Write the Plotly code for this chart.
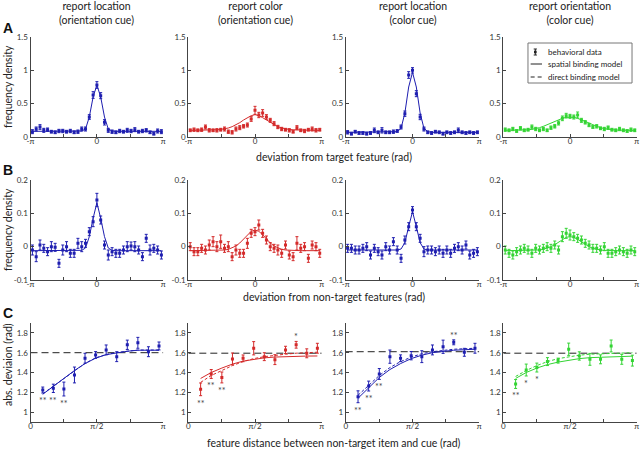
import numpy as np
import plotly.graph_objects as go

PI = np.pi
FONT = "Lato"

# ---------------- data ----------------
col_titles = ["report location<br>(orientation cue)", "report color<br>(orientation cue)",
              "report location<br>(color cue)", "report orientation<br>(color cue)"]
panel_colors = ["#1e1eb0", "#d42a2a", "#1e1eb0", "#33d433"]

n_bins = 35
bin_centers = -PI + (np.arange(n_bins) + 0.5) * 2 * PI / n_bins

# Row A: deviation from target feature
A1_y = [0.08, 0.12, 0.15, 0.10, 0.11, 0.08, 0.07, 0.09, 0.09, 0.08, 0.09, 0.07, 0.08, 0.12, 0.12, 0.30, 0.63, 0.78, 0.62, 0.22, 0.10, 0.08, 0.07, 0.09, 0.08, 0.10, 0.09, 0.11, 0.08, 0.09, 0.10, 0.07, 0.05, 0.09, 0.08]
A1_err = [0.03, 0.03, 0.035, 0.03, 0.025, 0.02, 0.02, 0.025, 0.025, 0.02, 0.025, 0.02, 0.025, 0.03, 0.03, 0.035, 0.05, 0.05, 0.045, 0.04, 0.03, 0.025, 0.02, 0.025, 0.02, 0.03, 0.025, 0.03, 0.02, 0.025, 0.025, 0.02, 0.02, 0.03, 0.03]
A1_model = [0.085, 0.085, 0.085, 0.085, 0.085, 0.085, 0.085, 0.085, 0.085, 0.085, 0.085, 0.085, 0.086, 0.09, 0.12, 0.30, 0.60, 0.78, 0.60, 0.30, 0.12, 0.09, 0.086, 0.085, 0.085, 0.085, 0.085, 0.085, 0.085, 0.085, 0.085, 0.085, 0.085, 0.085, 0.085]

A2_y = [0.10, 0.11, 0.10, 0.11, 0.15, 0.10, 0.10, 0.10, 0.11, 0.12, 0.08, 0.07, 0.12, 0.14, 0.16, 0.18, 0.27, 0.40, 0.33, 0.36, 0.30, 0.25, 0.20, 0.15, 0.12, 0.11, 0.10, 0.08, 0.14, 0.10, 0.09, 0.11, 0.12, 0.10, 0.11]
A2_err = [0.02, 0.025, 0.02, 0.025, 0.03, 0.025, 0.02, 0.025, 0.02, 0.03, 0.025, 0.025, 0.03, 0.03, 0.025, 0.03, 0.035, 0.06, 0.04, 0.05, 0.035, 0.03, 0.03, 0.025, 0.025, 0.02, 0.025, 0.02, 0.03, 0.02, 0.025, 0.02, 0.03, 0.025, 0.02]
A2_model = [0.1, 0.1, 0.1, 0.101, 0.102, 0.103, 0.105, 0.108, 0.113, 0.122, 0.135, 0.155, 0.18, 0.215, 0.255, 0.29, 0.32, 0.335, 0.32, 0.29, 0.255, 0.215, 0.18, 0.155, 0.135, 0.122, 0.113, 0.108, 0.105, 0.103, 0.102, 0.101, 0.1, 0.1, 0.1]

A3_y = [0.07, 0.05, 0.08, 0.06, 0.06, 0.05, 0.06, 0.10, 0.07, 0.10, 0.07, 0.07, 0.08, 0.09, 0.15, 0.35, 0.93, 1.00, 0.65, 0.30, 0.12, 0.07, 0.06, 0.08, 0.07, 0.05, 0.07, 0.06, 0.07, 0.10, 0.07, 0.06, 0.07, 0.06, 0.07]
A3_err = [0.025, 0.02, 0.02, 0.02, 0.02, 0.02, 0.02, 0.035, 0.02, 0.04, 0.02, 0.02, 0.025, 0.02, 0.03, 0.04, 0.05, 0.04, 0.045, 0.04, 0.03, 0.02, 0.02, 0.02, 0.02, 0.02, 0.02, 0.02, 0.02, 0.035, 0.02, 0.02, 0.02, 0.02, 0.02]
A3_model = [0.07, 0.07, 0.07, 0.07, 0.07, 0.07, 0.07, 0.07, 0.07, 0.07, 0.07, 0.07, 0.07, 0.08, 0.13, 0.36, 0.75, 0.97, 0.75, 0.36, 0.13, 0.08, 0.07, 0.07, 0.07, 0.07, 0.07, 0.07, 0.07, 0.07, 0.07, 0.07, 0.07, 0.07, 0.07]

A4_y = [0.11, 0.10, 0.12, 0.09, 0.13, 0.10, 0.11, 0.15, 0.12, 0.10, 0.12, 0.10, 0.14, 0.16, 0.21, 0.28, 0.32, 0.31, 0.30, 0.33, 0.25, 0.22, 0.18, 0.15, 0.16, 0.13, 0.12, 0.14, 0.11, 0.10, 0.12, 0.10, 0.09, 0.11, 0.10]
A4_err = [0.025, 0.02, 0.025, 0.02, 0.025, 0.02, 0.02, 0.03, 0.025, 0.02, 0.025, 0.02, 0.025, 0.025, 0.03, 0.035, 0.035, 0.03, 0.03, 0.045, 0.03, 0.025, 0.025, 0.02, 0.025, 0.02, 0.025, 0.025, 0.02, 0.02, 0.025, 0.02, 0.02, 0.025, 0.02]
A4_model = [0.1, 0.1, 0.1, 0.1, 0.102, 0.104, 0.108, 0.115, 0.125, 0.14, 0.16, 0.185, 0.21, 0.235, 0.26, 0.28, 0.295, 0.30, 0.295, 0.28, 0.26, 0.235, 0.21, 0.185, 0.16, 0.14, 0.125, 0.115, 0.108, 0.104, 0.102, 0.1, 0.1, 0.1, 0.1]

# Row B: deviation from non-target features
B1_y = [-0.01, -0.03, 0.005, -0.005, -0.015, 0.0, -0.002, -0.05, -0.01, 0.0, -0.02, -0.02, 0.01, 0.0, 0.01, 0.045, 0.075, 0.14, 0.08, 0.005, -0.025, -0.015, -0.02, -0.02, -0.01, 0.0, 0.002, 0.0, -0.01, -0.03, 0.025, -0.01, -0.005, -0.01, -0.025]
B1_err = [0.015, 0.015, 0.015, 0.012, 0.012, 0.015, 0.012, 0.012, 0.015, 0.015, 0.012, 0.012, 0.015, 0.015, 0.012, 0.012, 0.015, 0.02, 0.012, 0.012, 0.015, 0.012, 0.012, 0.012, 0.012, 0.015, 0.012, 0.015, 0.012, 0.012, 0.012, 0.015, 0.012, 0.012, 0.012]
B1_model = [-0.012, -0.012, -0.012, -0.012, -0.012, -0.012, -0.012, -0.012, -0.012, -0.012, -0.012, -0.012, -0.012, -0.011, -0.004, 0.03, 0.085, 0.132, 0.085, 0.03, -0.004, -0.011, -0.012, -0.012, -0.012, -0.012, -0.012, -0.012, -0.012, -0.012, -0.012, -0.012, -0.012, -0.012, -0.012]

B2_y = [0.0, -0.015, -0.015, -0.005, -0.01, 0.005, 0.015, 0.0, 0.015, -0.005, 0.0, -0.03, -0.01, -0.02, -0.02, 0.01, 0.04, 0.045, 0.065, 0.04, 0.02, 0.0, -0.005, -0.01, -0.02, 0.005, -0.025, -0.03, 0.01, -0.005, 0.0, -0.035, 0.005, 0.0, -0.02]
B2_err = [0.012, 0.012, 0.012, 0.012, 0.012, 0.015, 0.015, 0.015, 0.02, 0.012, 0.015, 0.012, 0.015, 0.012, 0.012, 0.015, 0.012, 0.012, 0.015, 0.012, 0.012, 0.012, 0.012, 0.015, 0.012, 0.012, 0.012, 0.012, 0.02, 0.012, 0.012, 0.012, 0.012, 0.012, 0.012]
B2_model = [-0.012, -0.012, -0.012, -0.012, -0.012, -0.012, -0.012, -0.012, -0.011, -0.010, -0.008, -0.004, 0.002, 0.011, 0.023, 0.036, 0.046, 0.05, 0.046, 0.036, 0.023, 0.011, 0.002, -0.004, -0.008, -0.010, -0.011, -0.012, -0.012, -0.012, -0.012, -0.012, -0.012, -0.012, -0.012]

B3_y = [-0.005, -0.005, -0.01, -0.01, -0.005, 0.0, -0.025, -0.005, -0.015, -0.025, 0.0, -0.01, 0.015, -0.01, -0.035, 0.02, 0.06, 0.11, 0.06, 0.025, -0.015, -0.01, -0.01, -0.015, -0.01, -0.02, -0.01, -0.02, -0.005, 0.0, -0.01, 0.005, -0.025, -0.02, -0.015]
B3_err = [0.012, 0.012, 0.012, 0.012, 0.012, 0.012, 0.012, 0.012, 0.012, 0.012, 0.012, 0.012, 0.012, 0.012, 0.012, 0.012, 0.012, 0.01, 0.012, 0.012, 0.015, 0.012, 0.012, 0.012, 0.012, 0.012, 0.012, 0.012, 0.012, 0.012, 0.012, 0.012, 0.012, 0.012, 0.012]
B3_model = [-0.01, -0.01, -0.01, -0.01, -0.01, -0.01, -0.01, -0.01, -0.01, -0.01, -0.01, -0.01, -0.01, -0.01, -0.007, 0.012, 0.06, 0.105, 0.06, 0.012, -0.007, -0.01, -0.01, -0.01, -0.01, -0.01, -0.01, -0.01, -0.01, -0.01, -0.01, -0.01, -0.01, -0.01, -0.01]

B4_y = [-0.01, -0.02, -0.025, -0.015, -0.01, -0.005, -0.01, -0.02, -0.005, -0.01, -0.005, 0.0, -0.005, 0.005, -0.01, 0.03, 0.04, 0.035, 0.03, 0.025, 0.02, 0.01, 0.005, -0.005, -0.005, -0.01, 0.0, -0.02, -0.02, -0.015, -0.01, -0.015, -0.02, -0.01, -0.015]
B4_err = [0.012, 0.012, 0.012, 0.012, 0.012, 0.012, 0.012, 0.012, 0.012, 0.012, 0.012, 0.012, 0.012, 0.012, 0.012, 0.015, 0.015, 0.015, 0.012, 0.012, 0.012, 0.012, 0.012, 0.012, 0.012, 0.012, 0.012, 0.012, 0.012, 0.012, 0.012, 0.012, 0.012, 0.012, 0.012]
B4_model = [-0.012, -0.012, -0.012, -0.012, -0.012, -0.012, -0.012, -0.012, -0.011, -0.010, -0.008, -0.005, 0.0, 0.006, 0.014, 0.022, 0.028, 0.03, 0.028, 0.022, 0.014, 0.006, 0.0, -0.005, -0.008, -0.010, -0.011, -0.012, -0.012, -0.012, -0.012, -0.012, -0.012, -0.012, -0.012]

# Row C: abs. deviation vs feature distance
feature_dist = [0.29, 0.54, 0.79, 1.04, 1.29, 1.54, 1.79, 2.04, 2.29, 2.54, 2.79, 3.04]

C1_y = [1.223, 1.24, 1.233, 1.375, 1.544, 1.577, 1.628, 1.56, 1.68, 1.70, 1.61, 1.668]
C1_err = [0.03, 0.042, 0.07, 0.08, 0.05, 0.034, 0.05, 0.05, 0.047, 0.055, 0.05, 0.04]
C1_spatial = [1.18, 1.26, 1.34, 1.42, 1.49, 1.545, 1.58, 1.60, 1.615, 1.625, 1.625, 1.625]
C1_alt = [1.185, 1.262, 1.342, 1.422, 1.492, 1.547, 1.582, 1.602, 1.617, 1.627, 1.627, 1.627]
C1_ref = 1.60
C1_stars = ["**", "**", "**", "", "", "", "", "", "", "", "", ""]

C2_y = [1.23, 1.385, 1.35, 1.537, 1.543, 1.645, 1.56, 1.53, 1.628, 1.68, 1.594, 1.645]
C2_err = [0.064, 0.045, 0.055, 0.06, 0.034, 0.067, 0.04, 0.05, 0.037, 0.034, 0.045, 0.05]
C2_spatial = [1.34, 1.40, 1.445, 1.485, 1.515, 1.535, 1.548, 1.556, 1.561, 1.564, 1.566, 1.567]
C2_alt = [1.30, 1.37, 1.42, 1.47, 1.51, 1.54, 1.56, 1.575, 1.585, 1.595, 1.60, 1.605]
C2_ref = 1.595
C2_stars = ["**", "**", "**", "", "", "", "", "", "", "*", "", ""]

C3_y = [1.155, 1.263, 1.385, 1.56, 1.544, 1.57, 1.56, 1.628, 1.66, 1.705, 1.604, 1.645]
C3_err = [0.06, 0.05, 0.055, 0.067, 0.034, 0.042, 0.06, 0.05, 0.067, 0.025, 0.04, 0.05]
C3_spatial = [1.14, 1.25, 1.35, 1.43, 1.49, 1.54, 1.575, 1.60, 1.615, 1.625, 1.63, 1.635]
C3_alt = [1.17, 1.275, 1.37, 1.45, 1.51, 1.555, 1.59, 1.61, 1.625, 1.635, 1.64, 1.645]
C3_ref = 1.61
C3_stars = ["**", "**", "**", "", "", "", "", "", "", "**", "", ""]

C4_y = [1.284, 1.425, 1.45, 1.51, 1.52, 1.635, 1.567, 1.533, 1.533, 1.668, 1.533, 1.52]
C4_err = [0.045, 0.06, 0.045, 0.04, 0.025, 0.062, 0.042, 0.06, 0.045, 0.06, 0.05, 0.055]
C4_spatial = [1.34, 1.40, 1.445, 1.48, 1.505, 1.525, 1.54, 1.55, 1.555, 1.56, 1.565, 1.565]
C4_alt = [1.36, 1.42, 1.47, 1.51, 1.54, 1.56, 1.575, 1.585, 1.59, 1.595, 1.60, 1.60]
C4_ref = 1.595
C4_stars = ["**", "*", "*", "", "", "", "", "", "", "", "", ""]

rowA = [(A1_y, A1_err, A1_model), (A2_y, A2_err, A2_model), (A3_y, A3_err, A3_model), (A4_y, A4_err, A4_model)]
rowB = [(B1_y, B1_err, B1_model), (B2_y, B2_err, B2_model), (B3_y, B3_err, B3_model), (B4_y, B4_err, B4_model)]
rowC = [(C1_y, C1_err, C1_spatial, C1_alt, C1_ref, C1_stars),
        (C2_y, C2_err, C2_spatial, C2_alt, C2_ref, C2_stars),
        (C3_y, C3_err, C3_spatial, C3_alt, C3_ref, C3_stars),
        (C4_y, C4_err, C4_spatial, C4_alt, C4_ref, C4_stars)]

# ---------------- figure ----------------
W, H = 640, 450
col_px = [(30.5, 163.3), (188.3, 321.7), (345.7, 479.3), (503.3, 636.7)]
row_px = [(37, 137), (180, 280), (323, 422)]
TXT = 10.5
TICK = 8


def ax_id(r, c):
    return (r - 1) * 4 + c


def refs(k):
    return ("x" if k == 1 else f"x{k}"), ("y" if k == 1 else f"y{k}")


traces = []
annots = []


def data_trace(x, y, err, color, k):
    xr, yr = refs(k)
    return go.Scatter(x=x, y=y, mode="markers",
                      marker=dict(symbol="square", size=3, color=color, line=dict(width=0)),
                      error_y=dict(type="data", array=err, color=color, thickness=1, width=1.5),
                      showlegend=False, hoverinfo="skip", xaxis=xr, yaxis=yr)


def line_trace(x, y, color, dash, k, width=1):
    xr, yr = refs(k)
    return go.Scatter(x=x, y=y, mode="lines", line=dict(color=color, width=width, dash=dash),
                      showlegend=False, hoverinfo="skip", xaxis=xr, yaxis=yr)


for c in range(4):
    col = panel_colors[c]
    y, e, m = rowA[c]
    k = ax_id(1, c + 1)
    traces.append(line_trace(bin_centers, m, col, "solid", k))
    traces.append(data_trace(bin_centers, y, e, col, k))

    y, e, m = rowB[c]
    k = ax_id(2, c + 1)
    traces.append(line_trace(bin_centers, m, col, "solid", k))
    traces.append(data_trace(bin_centers, y, e, col, k))

    y, e, sp, alt, ref, stars = rowC[c]
    k = ax_id(3, c + 1)
    traces.append(line_trace([0, PI], [ref, ref], "#222222", "7px,4px", k))
    traces.append(line_trace(feature_dist, alt, col, "3px,2px", k))
    traces.append(line_trace(feature_dist, sp, col, "solid", k))
    traces.append(data_trace(feature_dist, y, e, col, k))
    xr, yr = refs(k)
    for xi, yi, ei, s in zip(feature_dist, y, e, stars):
        if not s:
            continue
        above = yi > ref
        annots.append(dict(x=xi, y=(yi + ei) if above else (yi - ei), xref=xr, yref=yr,
                           text=s, showarrow=False, yanchor="bottom" if above else "top",
                           yshift=-3 if above else 0,
                           font=dict(family=FONT, size=9, color="#444444")))

axis_common = dict(showline=True, linecolor="#444444", linewidth=1, ticks="inside", ticklen=3,
                   tickcolor="#444444", tickwidth=1, showgrid=False, zeroline=False, mirror=False,
                   tickfont=dict(family=FONT, size=TICK, color="#333333"))

layout = dict(width=W, height=H, margin=dict(l=0, r=0, t=0, b=0, autoexpand=False),
              paper_bgcolor="white", plot_bgcolor="white", showlegend=False,
              font=dict(family=FONT))

for r in range(1, 4):
    for c in range(1, 5):
        k = ax_id(r, c)
        xr, yr = refs(k)
        x0, x1 = col_px[c - 1]
        t, b = row_px[r - 1]
        xd = [x0 / W, x1 / W]
        yd = [1 - b / H, 1 - t / H]
        if r < 3:
            xa = dict(domain=xd, range=[-PI, PI], tickvals=[-PI, -PI / 2, 0, PI / 2, PI],
                      ticktext=["-π", "", "0", "", "π"], ticklabelstandoff=-4, **axis_common)
        else:
            xa = dict(domain=xd, range=[0, PI], tickvals=[0, PI / 4, PI / 2, 3 * PI / 4, PI],
                      ticktext=["0", "", "π/2", "", "π"], ticklabelstandoff=-4, **axis_common)
        if r == 1:
            ya = dict(domain=yd, range=[0, 1.5], tickvals=[0, 0.5, 1, 1.5],
                      ticktext=["0", "0.5", "1", "1.5"], **axis_common)
        elif r == 2:
            ya = dict(domain=yd, range=[-0.1, 0.2], tickvals=[-0.1, 0, 0.1, 0.2],
                      ticktext=["-0.1", "0", "0.1", "0.2"], **axis_common)
        else:
            ya = dict(domain=yd, range=[0.9, 1.9], tickvals=[1, 1.2, 1.4, 1.6, 1.8],
                      ticktext=["1", "1.2", "1.4", "1.6", "1.8"], **axis_common)
        xa["anchor"] = yr
        ya["anchor"] = xr
        layout["xaxis" if k == 1 else f"xaxis{k}"] = xa
        layout["yaxis" if k == 1 else f"yaxis{k}"] = ya

# column titles
for c in range(4):
    x0, x1 = col_px[c]
    annots.append(dict(x=(x0 + x1) / 2 / W, y=1, xref="paper", yref="paper", xanchor="center",
                       yanchor="top", yshift=2, text=col_titles[c], showarrow=False,
                       font=dict(family=FONT, size=TXT, color="#222222")))
# panel letters
for letter, ypx in [("A", 28), ("B", 170), ("C", 313)]:
    annots.append(dict(x=1 / W, y=1 - ypx / H, xref="paper", yref="paper", xanchor="left",
                       yanchor="middle", text=f"<b>{letter}</b>", showarrow=False,
                       font=dict(family="Liberation Sans", size=14, color="#111111")))
# x titles
for txt, ypx in [("deviation from target feature (rad)", 157),
                 ("deviation from non-target features (rad)", 297),
                 ("feature distance between non-target item and cue (rad)", 443)]:
    annots.append(dict(x=334 / W, y=1 - ypx / H, xref="paper", yref="paper", xanchor="center",
                       yanchor="middle", text=txt, showarrow=False,
                       font=dict(family=FONT, size=TXT, color="#222222")))
# y titles
for txt, ypx in [("frequency density", 87), ("frequency density", 230), ("abs. deviaion (rad)", 365)]:
    annots.append(dict(x=8 / W, y=1 - ypx / H, xref="paper", yref="paper", xanchor="center",
                       yanchor="middle", textangle=-90, text=txt, showarrow=False,
                       font=dict(family=FONT, size=TXT, color="#222222")))

# custom legend inside top-right panel
lx, ly = "x4 domain", "y4 domain"
legend_items = ["behavioral data", "spatial binding model", "direct binding model"]
item_y = [0.85, 0.73, 0.60]
for txt, yy in zip(legend_items, item_y):
    annots.append(dict(x=0.32, y=yy, xref=lx, yref=ly, xanchor="left", yanchor="middle",
                       text=txt, showarrow=False, font=dict(family=FONT, size=8, color="#222222")))

shapes = [
    dict(type="rect", xref=lx, yref=ly, x0=0.185, x1=0.965, y0=0.54, y1=0.94,
         line=dict(color="#777777", width=1), fillcolor="white", layer="below"),
    dict(type="line", xref=lx, yref=ly, x0=0.24, x1=0.24, y0=0.82, y1=0.88, line=dict(color="#222", width=1)),
    dict(type="line", xref=lx, yref=ly, x0=0.228, x1=0.252, y0=0.82, y1=0.82, line=dict(color="#222", width=1)),
    dict(type="line", xref=lx, yref=ly, x0=0.228, x1=0.252, y0=0.88, y1=0.88, line=dict(color="#222", width=1)),
    dict(type="rect", xref=lx, yref=ly, x0=0.23, x1=0.25, y0=0.837, y1=0.863, line=dict(width=0), fillcolor="#222"),
    dict(type="line", xref=lx, yref=ly, x0=0.205, x1=0.29, y0=0.73, y1=0.73, line=dict(color="#222", width=1)),
    dict(type="line", xref=lx, yref=ly, x0=0.205, x1=0.29, y0=0.60, y1=0.60,
         line=dict(color="#222", width=1, dash="4px,3px")),
]

layout["annotations"] = annots
layout["shapes"] = shapes

fig = go.Figure(data=traces, layout=layout)
fig.write_html("out.html", config={"displayModeBar": False},
               post_script="document.body.style.margin='0px';")
